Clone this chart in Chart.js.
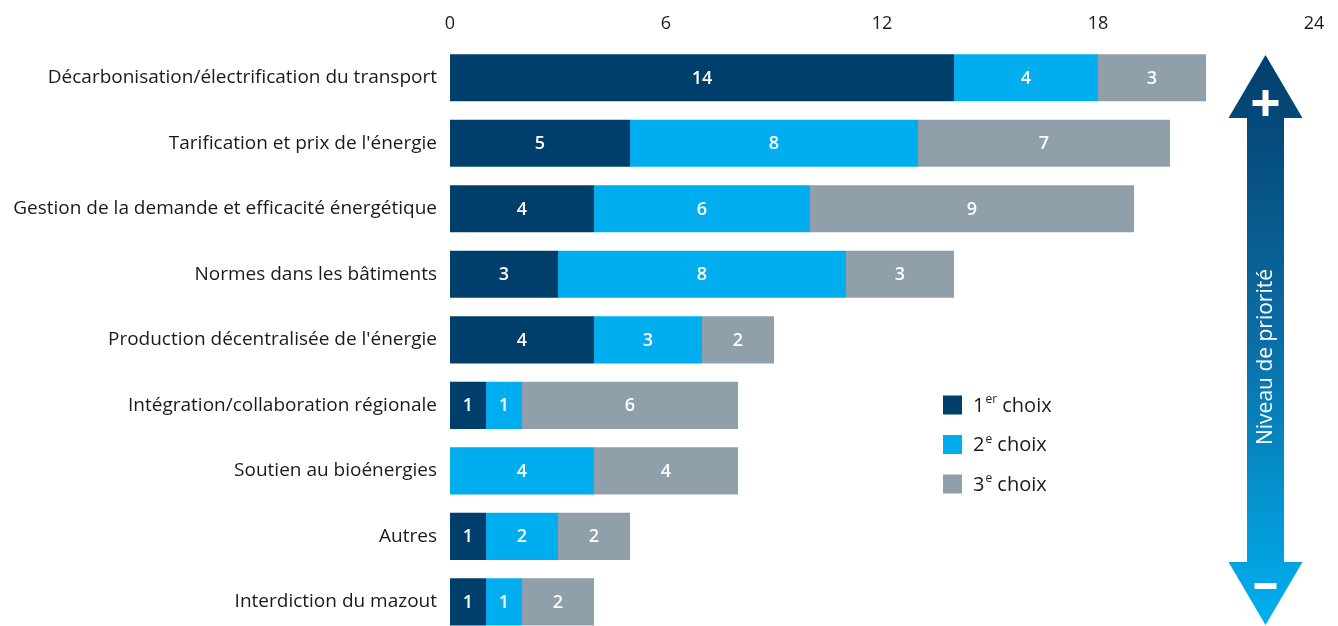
<!DOCTYPE html>
<html>
<head>
<meta charset="utf-8">
<script src="https://cdn.jsdelivr.net/npm/chart.js@4/dist/chart.umd.min.js"></script>
<style>
  html, body { margin: 0; padding: 0; background: #fff; overflow: hidden; }
  canvas { display: block; }
</style>
</head>
<body>
<canvas id="myChart" width="1338" height="659"></canvas>
<script>
const categories = [
  'Décarbonisation/électrification du transport',
  "Tarification et prix de l'énergie",
  'Gestion de la demande et efficacité énergétique',
  'Normes dans les bâtiments',
  "Production décentralisée de l'énergie",
  'Intégration/collaboration régionale',
  'Soutien au bioénergies',
  'Autres',
  'Interdiction du mazout'
];
const choix1 = [14, 5, 4, 3, 4, 1, 0, 1, 1];
const choix2 = [4, 8, 6, 8, 3, 1, 4, 2, 1];
const choix3 = [3, 7, 9, 3, 2, 6, 4, 2, 2];
const xTicks = [0, 6, 12, 18, 24];
// legend: number + superscript + rest
const legendParts = [['1', 'er', ' choix'], ['2', 'e', ' choix'], ['3', 'e', ' choix']];

const FONT = '"Open Sans", sans-serif';
const colors = ['#003f6b', '#00aeef', '#8fa0aa'];

// white value labels inside each segment
const valueLabels = {
  id: 'valueLabels',
  afterDatasetsDraw(chart) {
    const ctx = chart.ctx;
    ctx.save();
    ctx.font = '600 18px ' + FONT;
    ctx.fillStyle = '#fff';
    ctx.textAlign = 'center';
    ctx.textBaseline = 'middle';
    chart.data.datasets.forEach((ds, i) => {
      chart.getDatasetMeta(i).data.forEach((bar, j) => {
        const v = ds.data[j];
        if (!v) return;
        const p = bar.getProps(['x', 'y', 'base'], true);
        ctx.fillText(String(v), (p.x + p.base) / 2, p.y + 1);
      });
    });
    ctx.restore();
  }
};

// legend with superscripts
const customLegend = {
  id: 'customLegend',
  afterDraw(chart) {
    const ctx = chart.ctx;
    const x0 = 943, y0 = 405, step = 39.5;
    ctx.save();
    ctx.textBaseline = 'middle';
    ctx.textAlign = 'left';
    chart.data.datasets.forEach((ds, i) => {
      const y = y0 + i * step;
      ctx.fillStyle = ds.backgroundColor;
      ctx.fillRect(x0, y - 9.5, 19, 19);
      const parts = legendParts[i];
      ctx.fillStyle = '#1a1a1a';
      let x = x0 + 30;
      ctx.font = '20px ' + FONT;
      ctx.fillText(parts[0], x, y + 1);
      x += ctx.measureText(parts[0]).width + 1;
      ctx.font = '12px ' + FONT;
      ctx.fillText(parts[1], x, y - 5);
      x += ctx.measureText(parts[1]).width;
      ctx.font = '20px ' + FONT;
      ctx.fillText(parts[2], x, y + 1);
    });
    ctx.restore();
  }
};

// priority arrow on the right
const priorityArrow = {
  id: 'priorityArrow',
  afterDraw(chart) {
    const ctx = chart.ctx;
    const cx = 1265.5, top = 55, bot = 625;
    const headW = 37, shaftW = 18.5, headH = 63;
    ctx.save();
    const g = ctx.createLinearGradient(0, top, 0, bot);
    g.addColorStop(0, '#033e6b');
    g.addColorStop(0.5, '#0a6ea6');
    g.addColorStop(1, '#00b0f0');
    ctx.fillStyle = g;
    ctx.beginPath();
    ctx.moveTo(cx, top);
    ctx.lineTo(cx + headW, top + headH);
    ctx.lineTo(cx + shaftW, top + headH);
    ctx.lineTo(cx + shaftW, bot - headH);
    ctx.lineTo(cx + headW, bot - headH);
    ctx.lineTo(cx, bot);
    ctx.lineTo(cx - headW, bot - headH);
    ctx.lineTo(cx - shaftW, bot - headH);
    ctx.lineTo(cx - shaftW, top + headH);
    ctx.lineTo(cx - headW, top + headH);
    ctx.closePath();
    ctx.fill();
    ctx.fillStyle = '#fff';
    // plus
    ctx.fillRect(cx - 13, 100, 26, 6);
    ctx.fillRect(cx - 3, 90, 6, 26);
    // minus
    ctx.fillRect(cx - 11, 583, 22, 6);
    ctx.translate(cx + 1, 357);
    ctx.rotate(-Math.PI / 2);
    ctx.font = '21px ' + FONT;
    ctx.textAlign = 'center';
    ctx.textBaseline = 'middle';
    ctx.fillText('Niveau de priorité', 0, 0);
    ctx.restore();
  }
};

const ctx = document.getElementById('myChart');
new Chart(ctx, {
  type: 'bar',
  data: {
    labels: categories,
    datasets: [
      { label: '1er choix', data: choix1, backgroundColor: colors[0] },
      { label: '2e choix', data: choix2, backgroundColor: colors[1] },
      { label: '3e choix', data: choix3, backgroundColor: colors[2] }
    ]
  },
  options: {
    indexAxis: 'y',
    responsive: false,
    animation: false,
    layout: { padding: { left: 0, right: 24, top: 0, bottom: 0 } },
    datasets: { bar: { barPercentage: 0.72, categoryPercentage: 1, borderWidth: 0 } },
    plugins: { legend: { display: false }, tooltip: { enabled: false } },
    scales: {
      x: {
        position: 'top',
        stacked: true,
        min: 0,
        max: 24,
        afterBuildTicks(axis) { axis.ticks = xTicks.map(v => ({ value: v })); },
        afterFit(axis) { axis.height = 45; },
        grid: { display: false, drawTicks: false },
        border: { display: false },
        ticks: { color: '#1a1a1a', font: { family: FONT, size: 18 }, padding: 10, maxRotation: 0 }
      },
      y: {
        stacked: true,
        afterFit(axis) { axis.width = 450; },
        grid: { display: false, drawTicks: false },
        border: { display: false },
        ticks: { color: '#1a1a1a', font: { family: FONT, size: 19 }, padding: 13 }
      }
    }
  },
  plugins: [valueLabels, customLegend, priorityArrow]
});
</script>
</body>
</html>
